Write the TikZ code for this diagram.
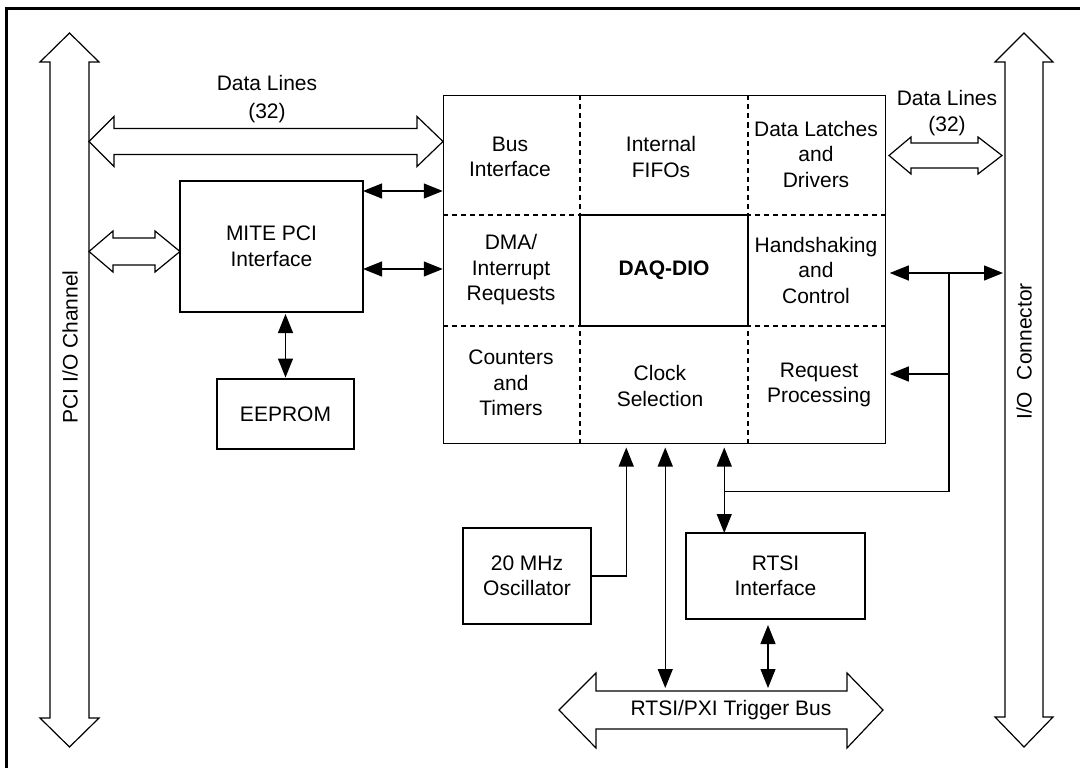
\documentclass[tikz,border=0pt]{standalone}
\usepackage{fontspec}
\setmainfont{Liberation Sans}
\usetikzlibrary{arrows.meta,calc}
\begin{document}
\begin{tikzpicture}[x=1pt,y=-1pt,
  every node/.style={font=\fontsize{21}{25.5}\selectfont, inner sep=0pt, outer sep=0pt},
  box/.style={draw, line width=1.2pt},
  tx/.style={align=center},
  ln/.style={line width=1.2pt},
  dbl/.style={ln, {Triangle[length=19pt,width=15pt]}-{Triangle[length=19pt,width=15pt]}},
  one/.style={ln, -{Triangle[length=19pt,width=15pt]}},
  blk/.style={line width=1.2pt, fill=white, line join=miter},
  dsh/.style={line width=1.1pt, dash pattern=on 5pt off 4pt}]
\useasboundingbox (0,0) rectangle (1080,768);

% frame (left and top)
\draw[line width=3pt] (6.5,770) -- (6.5,8.5) -- (1082,8.5);

% big bus arrows
\draw[blk] (50,62) -- (40,62) -- (69.5,33) -- (99,62) -- (89,62) -- (89,718) -- (99,718) -- (69.5,747) -- (40,718) -- (50,718) -- cycle;
\draw[blk] (1005,62) -- (995,62) -- (1024,33) -- (1053,62) -- (1043,62) -- (1043,717) -- (1053,717) -- (1024,747) -- (995,717) -- (1005,717) -- cycle;
\node[rotate=90] (pcil) at (70,347) {PCI I/O Channel};
\node[rotate=90] (iol) at (1024,351.5) {I/O\ \ Connector};
\coordinate (ioL) at (1005,0);

% data lines arrows
\draw[blk] (89,141.5) -- (114,116.5) -- (114,128.5) -- (417,128.5) -- (417,116.5) -- (443,141.5) -- (417,166.5) -- (417,154.5) -- (114,154.5) -- (114,166.5) -- cycle;
\node[tx] (dl1) at (267,99) {Data Lines\\[2pt](32)};
\draw[blk] (889,155.5) -- (911,137) -- (911,143) -- (978,143) -- (978,137) -- (1002,155.5) -- (978,174) -- (978,168) -- (911,168) -- (911,174) -- cycle;
\node[tx] (dl2) at (947,113) {Data Lines\\(32)};
\draw[blk] (89,251.5) -- (113,231) -- (113,238) -- (155,238) -- (155,231) -- (180,251.5) -- (155,272) -- (155,265) -- (113,265) -- (113,272) -- cycle;

% main block
\node[box, minimum width=442.5pt, minimum height=348pt] (main) at (664.5,269.5) {};
\node[box, minimum width=168pt, minimum height=111pt, font={\fontsize{21}{25.5}\selectfont\bfseries}] (daq) at (664,270.5) {DAQ-DIO};
\draw[dsh] (main.north -| daq.west) -- (daq.north west);
\draw[dsh] (main.north -| daq.east) -- (daq.north east);
\draw[dsh] (main.south -| daq.west) -- (daq.south west);
\draw[dsh] (main.south -| daq.east) -- (daq.south east);
\draw[dsh] (main.west |- daq.north) -- (daq.north west);
\draw[dsh] (main.west |- daq.south) -- (daq.south west);
\draw[dsh] (main.east |- daq.north) -- (daq.north east);
\draw[dsh] (main.east |- daq.south) -- (daq.south east);

\node[tx] (bi) at (510,157) {Bus\\Interface};
\node[tx] (fifo) at (661,157) {Internal\\FIFOs};
\node[tx] (dlat) at (816,154) {Data Latches\\and\\Drivers};
\node[tx] (dma) at (511,270) {DMA/\\Interrupt\\Requests};
\node[tx] (hs) at (816,270) {Handshaking\\and\\Control};
\node[tx] (ct) at (511,383) {Counters\\and\\Timers};
\node[tx] (cs) at (660,386) {Clock\\Selection};
\node[tx] (rp) at (819,385) {Request\\Processing};

% other blocks
\node[box, tx, minimum width=183pt, minimum height=131pt] (mite) at (271.5,246.5) {MITE PCI\\Interface};
\node[box, minimum width=137pt, minimum height=70pt] (eeprom) at (285.5,414) {EEPROM};
\node[box, tx, minimum width=128pt, minimum height=96pt] (osc) at (527,576) {20 MHz\\Oscillator};
\node[box, tx, minimum width=179pt, minimum height=86pt] (rtsi) at (775.5,576) {RTSI\\Interface};

% trigger bus
\draw[blk] (559,710) -- (596,673) -- (596,691) -- (847,691) -- (847,673) -- (883,710) -- (847,748) -- (847,729) -- (596,729) -- (596,748) -- cycle;
\node (bus) at (731,710) {RTSI/PXI Trigger Bus};
\coordinate (bustop) at (731,691);

% connectors
\coordinate (m1) at ($(mite.north east)+(0,10)$);
\coordinate (m2) at ($(mite.north east)+(0,88)$);
\draw[dbl, shorten >=0.5pt] (m1) -- (m1 -| main.west);
\draw[dbl, shorten >=0.5pt] (m2) -- (m2 -| main.west);
\draw[dbl, shorten <=1.5pt, shorten >=2pt] (eeprom.north) -- (eeprom.north |- mite.south);

\coordinate (ck) at ($(main.south west)+(183,0)$);
\coordinate (tg) at ($(main.south west)+(222,0)$);
\coordinate (rt) at ($(main.south west)+(281,0)$);
\draw[one, shorten >=4pt] (osc.east) -| (ck);
\draw[dbl, shorten <=4pt, shorten >=3pt] (tg) -- (tg |- bustop);
\draw[dbl, shorten <=4pt] (rt) -- (rt |- rtsi.north);
\coordinate (rb) at ($(rtsi.south)+(-7.5,0)$);
\draw[dbl, shorten <=6pt, shorten >=3pt] (rb) -- (rb |- bustop);

\coordinate (ctl) at (949,273);
\coordinate (rq) at (949,374);
\coordinate (br) at ($(rt)+(0,48)$);
\draw[dbl, shorten <=4pt, shorten >=2pt] (ctl -| main.east) -- (ctl -| ioL);
\draw[one, shorten >=4pt] (rq) -- (rq -| main.east);
\draw[ln] (ctl) -- (ctl |- br) -- (br);
\end{tikzpicture}
\end{document}
